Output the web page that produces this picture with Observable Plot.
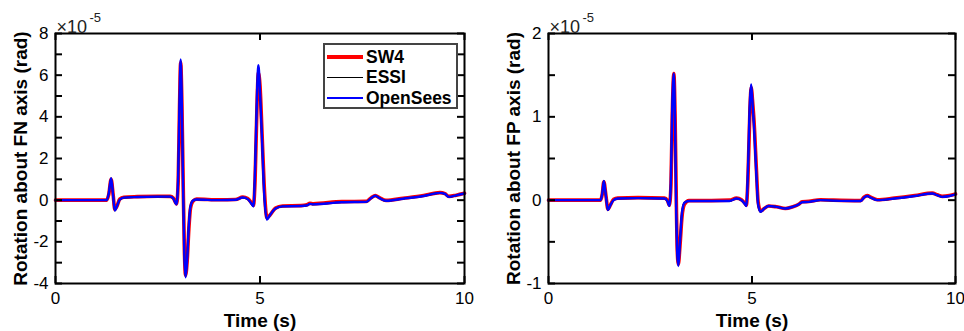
<!DOCTYPE html>
<html><head><meta charset="utf-8">
<script src="https://cdn.jsdelivr.net/npm/d3@7"></script>
<script src="https://cdn.jsdelivr.net/npm/@observablehq/plot@0.6"></script>
<style>
body{margin:0;background:#fff;font-family:"Liberation Sans",Arial,sans-serif;}
#wrap{position:relative;width:964px;height:331px;display:flex;overflow:hidden;}
#wrap svg{display:block;}
.legend{position:absolute;left:323px;top:43px;width:131px;height:62px;border:2px solid #444;background:#fff;}
.legend .row{position:absolute;left:2px;height:20px;display:flex;align-items:center;font-weight:bold;font-size:17.5px;color:#000;}
.legend .sw{width:36px;margin-right:3px;}
</style>
</head><body>
<div id="wrap"></div>
<script>
// values in units of 1e-5 rad
const timeFN = [0.00,1.25,1.30,1.36,1.41,1.45,1.50,1.57,1.67,2.00,2.50,2.80,2.88,2.96,3.00,3.03,3.06,3.09,3.12,3.15,3.18,3.22,3.26,3.30,3.36,3.45,4.00,4.40,4.58,4.70,4.80,4.84,4.88,4.93,4.96,5.00,5.05,5.10,5.17,5.25,5.38,5.55,6.00,6.15,6.22,6.30,7.00,7.60,7.72,7.82,7.92,8.08,8.50,9.00,9.40,9.52,9.62,9.80,10.00];
const opensFN = [0,0,0.3,1.05,0.2,-0.5,-0.3,0.02,0.12,0.15,0.17,0.17,0.08,-0.2,1.2,4.5,6.75,4.5,0.6,-2.6,-3.7,-2.8,-1.2,-0.3,-0.02,0.03,0.0,0.02,0.13,0.05,-0.2,-0.3,1.5,5.3,6.48,5.2,2.9,0.4,-0.93,-0.7,-0.4,-0.3,-0.28,-0.25,-0.18,-0.2,-0.1,-0.08,0.1,0.21,0.1,-0.03,0.07,0.2,0.35,0.3,0.16,0.23,0.32];
const essiFN  = [0,0,0.3,1.05,0.2,-0.5,-0.3,0.02,0.12,0.15,0.17,0.17,0.08,-0.2,1.2,4.5,6.72,4.5,0.6,-2.6,-3.68,-2.8,-1.2,-0.3,-0.02,0.03,0.0,0.02,0.13,0.05,-0.2,-0.3,1.5,5.3,6.45,5.2,2.9,0.4,-0.92,-0.7,-0.4,-0.3,-0.28,-0.25,-0.18,-0.2,-0.1,-0.08,0.1,0.21,0.1,-0.03,0.07,0.2,0.35,0.3,0.16,0.23,0.32];
const sw4FN   = [0,0,0.25,1.0,0.25,-0.45,-0.3,0.05,0.14,0.17,0.19,0.18,0.1,-0.18,0.9,4.2,6.6,4.7,1.0,-2.3,-3.6,-2.9,-1.4,-0.4,-0.05,0.05,0.02,0.03,0.15,0.08,-0.15,-0.25,1.0,4.8,6.1,5.5,3.2,0.8,-0.85,-0.7,-0.38,-0.28,-0.26,-0.22,-0.15,-0.17,-0.07,-0.06,0.12,0.22,0.12,-0.01,0.09,0.22,0.36,0.31,0.18,0.24,0.33];

const timeFP = [0.00,1.28,1.32,1.36,1.41,1.46,1.52,1.60,1.70,2.20,2.85,2.92,2.97,3.01,3.04,3.08,3.11,3.14,3.16,3.19,3.23,3.28,3.34,3.45,4.00,4.45,4.62,4.74,4.83,4.86,4.90,4.95,4.98,5.02,5.05,5.11,5.15,5.21,5.30,5.41,5.60,5.82,6.00,6.15,6.23,6.40,6.68,7.00,7.67,7.75,7.83,7.92,8.08,8.50,9.00,9.43,9.55,9.67,9.85,10.00];
const opensFP = [0,0,0.08,0.23,0.05,-0.12,-0.06,0.0,0.02,0.025,0.02,-0.01,-0.07,0.3,1.1,1.52,0.9,-0.2,-0.6,-0.79,-0.5,-0.15,-0.03,-0.01,-0.01,-0.01,0.02,0.0,-0.05,-0.07,0.35,1.2,1.39,1.1,0.88,0.28,-0.05,-0.14,-0.1,-0.07,-0.08,-0.1,-0.08,-0.05,-0.025,-0.02,0.0,-0.005,-0.01,0.03,0.05,0.03,0.0,0.02,0.05,0.08,0.06,0.04,0.05,0.07];
const essiFP  = [0,0,0.08,0.23,0.05,-0.12,-0.06,0.0,0.02,0.025,0.02,-0.01,-0.07,0.3,1.1,1.51,0.9,-0.2,-0.6,-0.78,-0.5,-0.15,-0.03,-0.01,-0.01,-0.01,0.02,0.0,-0.05,-0.07,0.35,1.2,1.38,1.1,0.88,0.28,-0.05,-0.14,-0.1,-0.07,-0.08,-0.1,-0.08,-0.05,-0.025,-0.02,0.0,-0.005,-0.01,0.03,0.05,0.03,0.0,0.02,0.05,0.08,0.06,0.04,0.05,0.07];
const sw4FP   = [0,0,0.07,0.22,0.06,-0.11,-0.06,0.01,0.025,0.03,0.025,0.0,-0.06,0.2,1.0,1.52,1.0,0.0,-0.55,-0.77,-0.55,-0.2,-0.05,-0.005,-0.005,0.0,0.025,0.005,-0.04,-0.06,0.25,1.1,1.35,1.15,0.95,0.35,-0.02,-0.13,-0.1,-0.07,-0.08,-0.1,-0.08,-0.05,-0.02,-0.015,0.005,0.0,-0.005,0.035,0.055,0.035,0.005,0.025,0.055,0.085,0.065,0.045,0.055,0.075];

const xTicks = [0, 5, 10];
const yTicksFN = [-4, -2, 0, 2, 4, 6, 8];
const yMinorFN = [-4, -3, -2, -1, 0, 1, 2, 3, 4, 5, 6, 7, 8];
const yTicksFP = [-1, 0, 1, 2];
const yMinorFP = [-1, -0.5, 0, 0.5, 1, 1.5, 2];
const seriesNames = ["SW4", "ESSI", "OpenSees"];
const seriesColors = ["#ff0000", "#000000", "#0000ff"];
const seriesWidths = [3.6, 1.6, 2.4];
const xLabel = "Time (s)";
const yLabelFN = "Rotation about FN axis (rad)";
const yLabelFP = "Rotation about FP axis (rad)";

function panel({time, series, yDomain, yTicks, yMinor, yLabel, marginLeft, marginRight}) {
  const W = 482, H = 331, mt = 33, mb = 48;
  const pw = W - marginLeft - marginRight, ph = H - mt - mb;
  const lines = series.map((vals, k) => Plot.line(time.map((t, i) => ({t, v: vals[i]})), {
    x: "t", y: "v", stroke: seriesColors[k], strokeWidth: seriesWidths[k], curve: "monotone-x", strokeLinejoin: "round"
  }));
  return Plot.plot({
    width: W, height: H, marginLeft, marginRight, marginTop: mt, marginBottom: mb,
    x: {domain: [0, 10]}, y: {domain: yDomain},
    style: {fontFamily: "Liberation Sans, Arial, sans-serif", fontSize: "17px", color: "#000", background: "#fff", overflow: "visible"},
    marks: [
      ...lines,
      Plot.tickY(yMinor, {y: d => d, insetRight: pw - 7, strokeWidth: 2}),
      Plot.tickY(yMinor, {y: d => d, insetLeft: pw - 7, strokeWidth: 2}),
      Plot.tickX(xTicks, {x: d => d, insetBottom: ph - 7, strokeWidth: 2}),
      Plot.tickX(xTicks, {x: d => d, insetTop: ph - 7, strokeWidth: 2}),
      Plot.frame({strokeWidth: 2}),
      Plot.axisX({ticks: xTicks, tickSize: 0, tickPadding: 8, fontSize: 17, label: null, tickFormat: d => String(d)}),
      Plot.axisY({ticks: yTicks, tickSize: 0, tickPadding: 7, fontSize: 17, label: null, tickFormat: d => String(d)}),
      Plot.text([yLabel], {text: d => d, frameAnchor: "left", textAnchor: "middle", lineAnchor: "middle", dx: -35, rotate: -90, fontWeight: "bold", fontSize: 19}),
      Plot.text([xLabel], {text: d => d, frameAnchor: "bottom", textAnchor: "middle", lineAnchor: "middle", dy: 37.5, fontWeight: "bold", fontSize: 19}),
      Plot.text(["×10"], {text: d => d, frameAnchor: "top-left", textAnchor: "start", lineAnchor: "bottom", dx: 1, dy: -1, fontSize: 18, fill: "#222"}),
      Plot.text(["-5"], {text: d => d, frameAnchor: "top-left", textAnchor: "start", lineAnchor: "bottom", dx: 34, dy: -12, fontSize: 13, fill: "#222"})
    ]
  });
}

const wrap = document.getElementById("wrap");
wrap.appendChild(panel({time: timeFN, series: [sw4FN, essiFN, opensFN], yDomain: [-4, 8], yTicks: yTicksFN, yMinor: yMinorFN, yLabel: yLabelFN, marginLeft: 55, marginRight: 18}));
wrap.appendChild(panel({time: timeFP, series: [sw4FP, essiFP, opensFP], yDomain: [-1, 2], yTicks: yTicksFP, yMinor: yMinorFP, yLabel: yLabelFP, marginLeft: 66, marginRight: 9}));

const leg = document.createElement("div");
leg.className = "legend";
seriesNames.forEach((name, k) => {
  const row = document.createElement("div");
  row.className = "row";
  row.style.top = (2 + 20.5 * k) + "px";
  const sw = document.createElement("div");
  sw.className = "sw";
  sw.style.height = seriesWidths[k] + "px";
  sw.style.background = seriesColors[k];
  const tx = document.createElement("span");
  tx.textContent = name;
  row.appendChild(sw); row.appendChild(tx);
  leg.appendChild(row);
});
wrap.appendChild(leg);
</script>
</body></html>
